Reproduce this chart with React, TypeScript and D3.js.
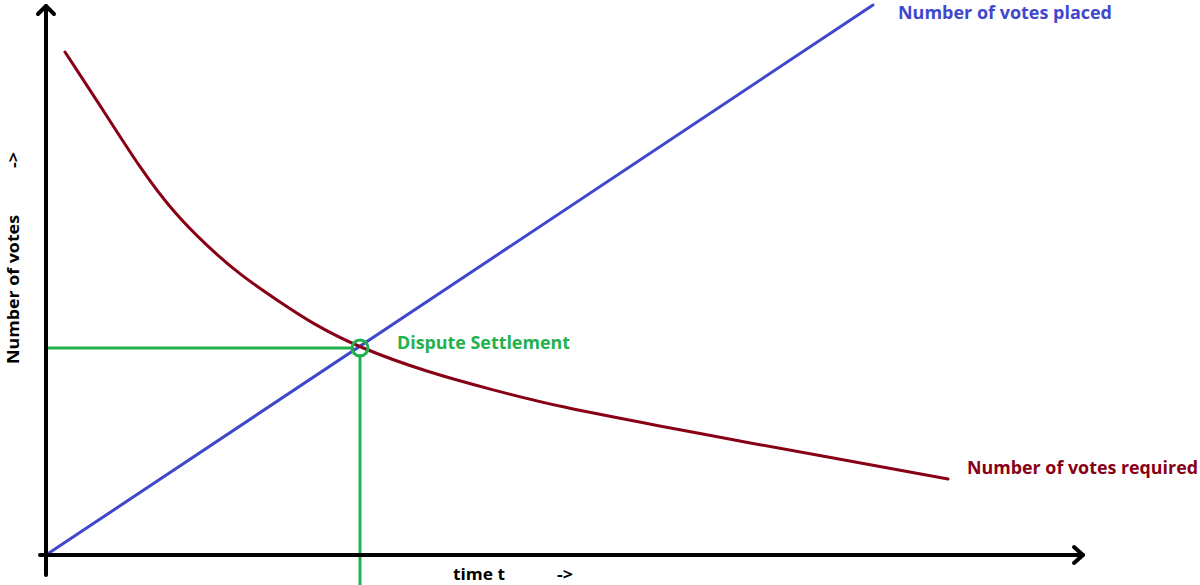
import React, { useEffect, useRef } from 'react';
import * as d3 from 'd3';

// time units along x, votes along y
const placedTimes = [0, 82.7];
const placedVotes = [0, 110];

const requiredTimes = [1.9, 5.9, 9.4, 12.7, 16.1, 19.4, 23.4, 26.7, 31.4, 38.1, 44.7, 51.4, 61.4, 70.4, 80.4, 90.2];
const requiredVotes = [100.6, 88.4, 77.4, 68.6, 61.8, 56, 50.6, 46.2, 41.4, 36.6, 33, 29.6, 25.8, 22.4, 18.8, 15.2];

const settlement = { time: 31.4, votes: 41.4 };

const labels = {
  placed: 'Number of votes placed',
  required: 'Number of votes required',
  settlement: 'Dispute Settlement',
  xAxis: 'time t',
  yAxis: 'Number of votes',
};

const BLUE = '#3f48cc';
const RED = '#880015';
const GREEN = '#22b14c';

const App = () => {
  const ref = useRef<SVGSVGElement>(null);

  useEffect(() => {
    const svg = d3.select(ref.current);
    svg.selectAll('*').remove();

    const x = d3.scaleLinear().domain([0, 100]).range([46, 1046]);
    const y = d3.scaleLinear().domain([0, 100]).range([555, 55]);
    const font = '"Open Sans", "Noto Sans", sans-serif';

    // green guide lines
    svg.append('line')
      .attr('x1', x(0)).attr('x2', x(settlement.time) - 6)
      .attr('y1', y(settlement.votes)).attr('y2', y(settlement.votes))
      .attr('stroke', GREEN).attr('stroke-width', 3);
    svg.append('line')
      .attr('x1', x(settlement.time)).attr('x2', x(settlement.time))
      .attr('y1', y(settlement.votes) + 6).attr('y2', 585)
      .attr('stroke', GREEN).attr('stroke-width', 3);

    const line = d3.line<[number, number]>()
      .x(d => x(d[0]))
      .y(d => y(d[1]));

    svg.append('path')
      .attr('d', line.curve(d3.curveLinear)(placedTimes.map((t, i) => [t, placedVotes[i]])))
      .attr('fill', 'none').attr('stroke', BLUE).attr('stroke-width', 3)
      .attr('stroke-linecap', 'round');

    svg.append('path')
      .attr('d', line.curve(d3.curveBasis)(requiredTimes.map((t, i) => [t, requiredVotes[i]])))
      .attr('fill', 'none').attr('stroke', RED).attr('stroke-width', 3)
      .attr('stroke-linecap', 'round');

    svg.append('circle')
      .attr('cx', x(settlement.time)).attr('cy', y(settlement.votes))
      .attr('r', 8).attr('fill', 'none')
      .attr('stroke', GREEN).attr('stroke-width', 3);

    // axes with arrow heads
    const ax = svg.append('g').attr('stroke', '#000').attr('stroke-width', 4)
      .attr('fill', 'none').attr('stroke-linecap', 'round').attr('stroke-linejoin', 'round');
    ax.append('line').attr('x1', x(0)).attr('x2', x(0)).attr('y1', 575).attr('y2', 6);
    ax.append('polyline').attr('points', `${x(0) - 8},14 ${x(0)},6 ${x(0) + 8},14`);
    ax.append('line').attr('x1', 40).attr('x2', 1083).attr('y1', y(0)).attr('y2', y(0));
    ax.append('polyline').attr('points', `1074,547 1083,${y(0)} 1074,563`);

    const txt = (s: string, tx: number, ty: number, color: string, len?: number, size = 17) => {
      const t = svg.append('text')
        .attr('x', tx).attr('y', ty)
        .attr('fill', color)
        .attr('font-family', font)
        .attr('font-weight', 'bold')
        .attr('font-size', size)
        .text(s);
      if (len) t.attr('textLength', len).attr('lengthAdjust', 'spacingAndGlyphs');
      return t;
    };

    txt(labels.placed, 898, 19, BLUE, 214);
    txt(labels.required, 967, 474, RED, 231);
    txt(labels.settlement, 397, 349, GREEN, 173);
    txt(labels.xAxis, 453, 580, '#000', 52, 16);
    txt('->', 557, 580, '#000', 16, 16);

    const yl = svg.append('g').attr('transform', 'translate(19,0) rotate(-90)');
    yl.append('text')
      .attr('x', -364).attr('y', 0)
      .attr('font-family', font).attr('font-weight', 'bold').attr('font-size', 16)
      .attr('textLength', 149).attr('lengthAdjust', 'spacingAndGlyphs')
      .text(labels.yAxis);
    yl.append('text')
      .attr('x', -168).attr('y', 0)
      .attr('font-family', font).attr('font-weight', 'bold').attr('font-size', 16)
      .attr('textLength', 16).attr('lengthAdjust', 'spacingAndGlyphs')
      .text('->');
  }, []);

  return (
    <svg
      ref={ref}
      width="1200"
      height="585"
      style={{ position: 'absolute', left: 0, top: 0, background: '#fff' }}
    ></svg>
  );
};

export default App;
